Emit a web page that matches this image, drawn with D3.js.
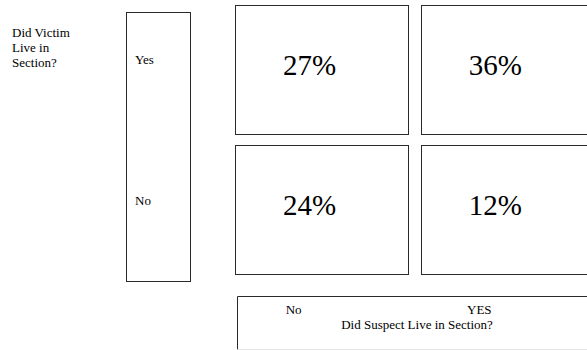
<!DOCTYPE html>
<html>
<head>
<meta charset="utf-8">
<script src="https://cdn.jsdelivr.net/npm/d3@7"></script>
</head>
<body style="margin:0">
<svg id="chart" width="587" height="350" font-family="Liberation Serif"></svg>
<script>
// ---- data ----
const victimCategories = ["Yes", "No"];          // rows: Did Victim Live in Section?
const suspectCategories = ["No", "YES"];         // columns: Did Suspect Live in Section?
const percentYesRow = [27, 36];                  // victim Yes: suspect No, suspect YES
const percentNoRow = [24, 12];                   // victim No: suspect No, suspect YES
const rowTitle = ["Did Victim", "Live in", "Section?"];
const columnTitle = "Did Suspect Live in Section?";

const cells = [];
[percentYesRow, percentNoRow].forEach((vals, r) => {
  vals.forEach((v, c) => cells.push({ row: victimCategories[r], col: suspectCategories[c], value: v }));
});

// ---- layout ----
const svg = d3.select("#chart");
const stroke = "#2a2a2a";

const x = d3.scaleBand().domain(suspectCategories).range([235, 594]).paddingInner(0.066).paddingOuter(0);
const y = d3.scaleBand().domain(victimCategories).range([4.5, 274.5]).paddingInner(0.08).paddingOuter(0);

// text layer (texts appended to svg root, like simple layouts)
const texts = [];
cells.forEach(d => texts.push({ t: d.value + "%", x: x(d.col) + x.bandwidth() / 2 - 12, y: y(d.row) + 70, size: 29, anchor: "middle" }));
victimCategories.forEach(d => texts.push({ t: d, x: 135, y: y(d) + y.bandwidth() / 2 - 5, size: 13, anchor: "start" }));
rowTitle.forEach((d, i) => texts.push({ t: d, x: 12, y: 37 + i * 15, size: 13, anchor: "start" }));
suspectCategories.forEach(d => texts.push({ t: d, x: x(d) + x.bandwidth() / 2 - 28, y: 314, size: 13, anchor: "middle" }));
texts.push({ t: columnTitle, x: 417, y: 329, size: 13, anchor: "middle" });

// cells
svg.selectAll("rect.cell").data(cells).join("rect")
  .attr("class", "cell")
  .attr("x", d => Math.round(x(d.col)) + 0.5)
  .attr("y", d => Math.round(y(d.row)) + 0.5)
  .attr("width", Math.round(x.bandwidth()))
  .attr("height", Math.round(y.bandwidth()))
  .attr("fill", "#fff")
  .attr("stroke", stroke)
  .attr("stroke-width", 1);

// row (victim) axis box
const rowBox = { x0: 126.5, x1: 190.5, y0: 12.5, y1: 281.5 };
svg.append("rect")
  .attr("x", rowBox.x0).attr("y", rowBox.y0)
  .attr("width", rowBox.x1 - rowBox.x0).attr("height", rowBox.y1 - rowBox.y0)
  .attr("fill", "none").attr("stroke", stroke);

// column (suspect) axis box
svg.append("path")
  .attr("d", "M237.5,349.5 L237.5,296.5 L600,296.5")
  .attr("fill", "none").attr("stroke", stroke);
svg.append("line")
  .attr("x1", 237.5).attr("x2", 600).attr("y1", 349.5).attr("y2", 349.5)
  .attr("stroke", "#e6e6e6");

svg.selectAll("text.lbl").data(texts).join("text")
  .attr("class", "lbl")
  .attr("x", d => d.x)
  .attr("y", d => d.y)
  .attr("text-anchor", d => d.anchor)
  .attr("font-family", "Liberation Serif")
  .attr("font-size", d => d.size)
  .text(d => d.t);
</script>
</body>
</html>
